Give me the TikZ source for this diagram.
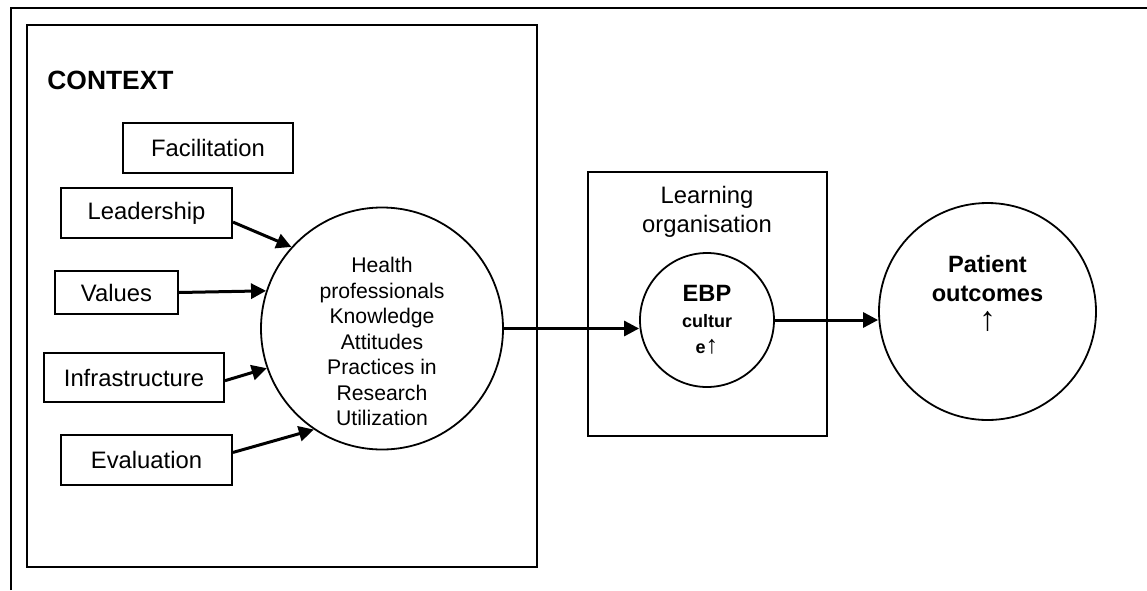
\documentclass[tikz,border=0pt]{standalone}
\usepackage{fontspec}
\setmainfont{Liberation Sans}
\usetikzlibrary{arrows.meta}
\tikzset{
  box/.style={draw, line width=1pt, minimum height=25pt, inner sep=0pt, font=\fontsize{11.9}{14}\selectfont},
  ring/.style={draw, circle, line width=0.9pt, inner sep=0pt},
  feed/.style={-{Triangle[length=7.5pt,width=7.5pt]}, line width=1.5pt},
}

\begin{document}
\begin{tikzpicture}[x=0.5pt, y=-0.5pt]
  \useasboundingbox (0,0) rectangle (1147,590);
  % frames
  \draw[line width=1pt] (10.5,590) -- (10.5,8) -- (1147,8);
  \draw[line width=1pt] (26.5,24.5) rectangle (537,567);
  \draw[line width=1pt] (588,172) rectangle (827,435.5);
  \node[anchor=west, inner sep=0pt, font=\fontsize{13.2}{15}\selectfont\bfseries] (ctx) at (47,80) {CONTEXT};
  \node[align=center, font=\fontsize{11.9}{14.5}\selectfont] (lorg) at (707,212) {Learning\\organisation};
  % context factors
  \node[box, minimum width=85pt] (fac) at (208,148) {Facilitation};
  \node[box, minimum width=85.5pt] (lead) at (146.5,213) {Leadership};
  \node[box, minimum width=61.5pt, minimum height=21.5pt] (val) at (116.5,292.5) {Values};
  \node[box, minimum width=90pt, minimum height=24.5pt] (infra) at (134,377.5) {Infrastructure};
  \node[box, minimum width=85.5pt] (eval) at (146.5,460) {Evaluation};
  % circles
  \node[ring, minimum size=121pt] (hp) at (382,328.5) {};
  \node[align=center, font=\fontsize{10.6}{12.75}\selectfont] (hptext) at (382,341.5)
    {Health\\professionals\\Knowledge\\Attitudes\\Practices in\\Research\\Utilization};
  \node[ring, minimum size=67pt, align=center, font=\fontsize{9}{13}\selectfont\bfseries] (ebp) at (707,320)
    {{\fontsize{11.8}{13}\selectfont EBP}\\cultur\\e{\fontsize{12.6}{13}\selectfont\mdseries ↑}};
  \node[ring, minimum size=108.5pt] (pat) at (987.5,311.5) {};
  \node[align=center, font=\fontsize{11.8}{14.5}\selectfont\bfseries] (pattext) at (987.5,293)
    {Patient\\outcomes\\{\fontsize{17}{14.5}\selectfont\mdseries ↑}};
  % arrows
  \draw[feed] (lead.-6) -- (hp.138.8);
  \draw[feed] (val.east) -- (hp.162.7);
  \draw[feed] (infra.-2.2) -- (hp.-161.3);
  \draw[feed] (eval.5.3) -- (hp.-124.2);
  \draw[feed] (hp.east) -- (hp.east -| ebp.west);
  \draw[feed] (ebp.east) -- (ebp.east -| pat.west);
\end{tikzpicture}
\end{document}
